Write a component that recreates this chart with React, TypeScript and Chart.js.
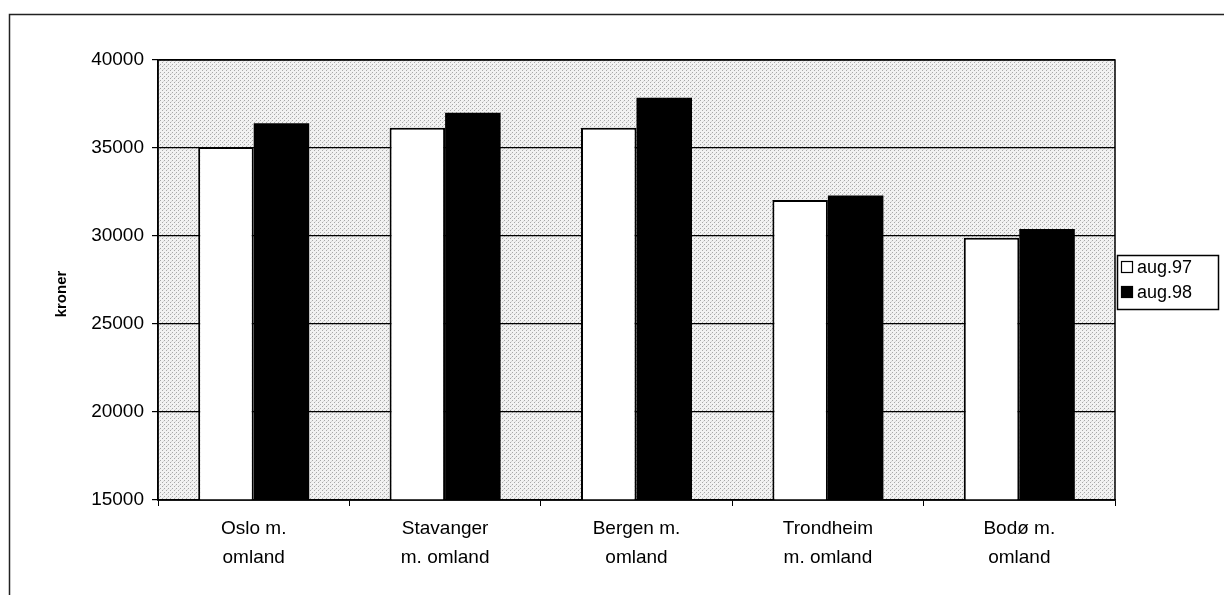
import React, { useEffect, useRef } from "react";
import { Chart, registerables } from "chart.js";

Chart.register(...registerables);

const categories: string[][] = [
  ["Oslo m.", "omland"],
  ["Stavanger", "m. omland"],
  ["Bergen m.", "omland"],
  ["Trondheim", "m. omland"],
  ["Bodø m.", "omland"],
];
const seriesNames = ["aug.97", "aug.98"];
const aug97 = [35050, 36150, 36150, 32050, 29900];
const aug98 = [36400, 37000, 37850, 32300, 30400];
const yTicks = { min: 15000, max: 40000, step: 5000 };
const yTitle = "kroner";

const FONT = "'Liberation Sans', Arial, sans-serif";

const framePlugin = {
  id: "framePlugin",
  beforeDraw(chart: any) {
    const { ctx, chartArea } = chart;
    ctx.save();
    ctx.strokeStyle = "#222";
    ctx.lineWidth = 1.5;
    ctx.beginPath();
    ctx.moveTo(1.5, chart.height);
    ctx.lineTo(1.5, 6.5);
    ctx.lineTo(chart.width, 6.5);
    ctx.stroke();
    // stippled plot background
    const pc = document.createElement("canvas");
    pc.width = 4;
    pc.height = 4;
    const p = pc.getContext("2d")!;
    p.fillStyle = "#f2f2f2";
    p.fillRect(0, 0, 4, 4);
    p.fillStyle = "#a8a8a8";
    p.fillRect(0, 0, 1, 1);
    p.fillRect(2, 2, 1, 1);
    p.fillStyle = "#d8d8d8";
    p.fillRect(3, 1, 1, 1);
    const pat = ctx.createPattern(pc, "repeat");
    ctx.fillStyle = pat;
    ctx.fillRect(chartArea.left, chartArea.top, chartArea.right - chartArea.left, chartArea.bottom - chartArea.top);
    ctx.restore();
  },
  afterDraw(chart: any) {
    const { ctx, chartArea } = chart;
    ctx.save();
    ctx.strokeStyle = "#000";
    ctx.lineWidth = 1.5;
    ctx.strokeRect(chartArea.left, chartArea.top, chartArea.right - chartArea.left, chartArea.bottom - chartArea.top);
    // y title
    ctx.save();
    ctx.translate(54, 286);
    ctx.rotate(-Math.PI / 2);
    ctx.font = `bold 15px ${FONT}`;
    ctx.fillStyle = "#000";
    ctx.textAlign = "center";
    ctx.textBaseline = "middle";
    ctx.fillText(yTitle, 0, 0);
    ctx.restore();
    // legend
    const bx = 1109, by = 247, bw = 101, bh = 54;
    ctx.fillStyle = "#fff";
    ctx.fillRect(bx, by, bw, bh);
    ctx.lineWidth = 1.5;
    ctx.strokeStyle = "#000";
    ctx.strokeRect(bx + 0.5, by + 0.5, bw, bh);
    const rows = [259, 284];
    const fills = ["#ffffff", "#000000"];
    ctx.font = `18px ${FONT}`;
    ctx.textBaseline = "middle";
    ctx.textAlign = "left";
    rows.forEach((ry, i) => {
      ctx.fillStyle = fills[i];
      ctx.fillRect(1113, ry - 6, 12, 12);
      ctx.lineWidth = 1.2;
      ctx.strokeStyle = "#000";
      ctx.strokeRect(1113.5, ry - 5.5, 11, 11);
      ctx.fillStyle = "#000";
      ctx.fillText(seriesNames[i], 1129, ry + 1);
    });
    ctx.restore();
  },
};

export default function App() {
  const ref = useRef<HTMLCanvasElement>(null);
  useEffect(() => {
    const chart = new Chart(ref.current!, {
      type: "bar",
      data: {
        labels: categories,
        datasets: [
          {
            label: seriesNames[0],
            data: aug97,
            backgroundColor: "#ffffff",
            borderColor: "#000000",
            borderWidth: 2,
            borderSkipped: "bottom",
            barPercentage: 1,
            categoryPercentage: 0.58,
          },
          {
            label: seriesNames[1],
            data: aug98,
            backgroundColor: "#000000",
            borderColor: "#000000",
            borderWidth: 0,
            barPercentage: 1,
            categoryPercentage: 0.58,
          },
        ],
      },
      options: {
        responsive: false,
        animation: false,
        layout: { padding: { left: 0, top: 52, right: 117, bottom: 0 } },
        plugins: { legend: { display: false }, tooltip: { enabled: false } },
        scales: {
          x: {
            grid: { display: true, drawOnChartArea: false, drawTicks: true, tickLength: 6, color: "#000", offset: true },
            border: { display: true, color: "#000", width: 1.5 },
            ticks: {
              color: "#000",
              font: { family: FONT, size: 19, lineHeight: 1.55 },
              padding: 8,
              maxRotation: 0,
              autoSkip: false,
            },
            afterFit: (s: any) => {
              s.height = 95;
            },
          },
          y: {
            min: yTicks.min,
            max: yTicks.max,
            grid: { color: "#000", tickLength: 6, lineWidth: 1.2 },
            border: { display: true, color: "#000", width: 1.5 },
            ticks: {
              stepSize: yTicks.step,
              color: "#000",
              font: { family: FONT, size: 19 },
              padding: 8,
              callback: (v: any) => String(v),
            },
            afterFit: (s: any) => {
              s.width = 150;
            },
          },
        },
      },
      plugins: [framePlugin],
    } as any);
    return () => chart.destroy();
  }, []);
  return (
    <div style={{ width: 1224, height: 587 }}>
      <canvas ref={ref} width={1224} height={587} />
    </div>
  );
}
